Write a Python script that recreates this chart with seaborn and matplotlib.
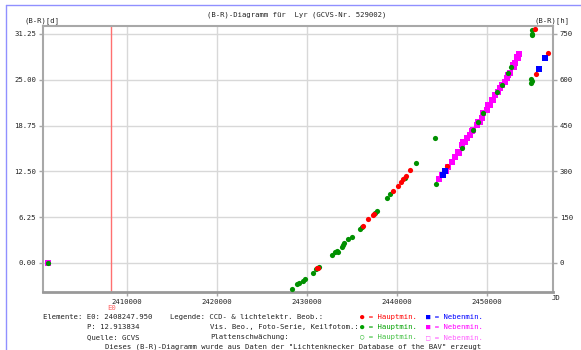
import matplotlib
matplotlib.use("Agg")
import matplotlib.pyplot as plt
import seaborn as sns

# ---------------------------------------------------------------
# Daten (abgelesen aus dem B-R-Diagramm)
# ---------------------------------------------------------------
E0 = 2408247.950
xticks = [2410000, 2420000, 2430000, 2440000, 2450000]
yticks_d = [0.00, 6.25, 12.50, 18.75, 25.00, 31.25]
yticks_h = [0, 150, 300, 450, 600, 750]

# CCD / lichtelektr. Hauptminima (rot)
red_jd = [2431070, 2431250, 2436259, 2436741, 2437296, 2437450, 2439593,
          2440074, 2440444, 2440704, 2441000, 2441444, 2445519, 2455333,
          2455444, 2456741]
red_oc = [-0.72, -0.62, 5.09, 5.96, 6.55, 6.75, 9.87,
          10.51, 11.09, 11.42, 11.87, 12.69, 13.23, 31.93,
          25.74, 28.70]

# CCD / lichtelektr. Nebenminima (blau)
blue_jd = [2445149, 2445334, 2455815, 2456444]
blue_oc = [12.01, 12.50, 26.47, 27.93]

# visuelle Hauptminima (gruen)
green_jd = [2401260, 2428300, 2428856, 2429148, 2429592, 2429778, 2430700,
            2431000, 2431367, 2432744, 2433111, 2433370, 2433480, 2433852,
            2434000, 2434111, 2434592, 2434963, 2435889, 2436074, 2437550,
            2437741, 2438852, 2439222, 2440890, 2442111, 2444223, 2444333,
            2447186, 2448482, 2449038, 2449593, 2451075, 2451631, 2452371,
            2452700, 2454963, 2454963, 2455000, 2454889, 2454889, 2454950]
green_oc = [0.00, -3.59, -2.87, -2.69, -2.41, -2.18, -1.41,
            -0.85, -0.59, 1.09, 1.54, 1.68, 1.54, 2.22,
            2.45, 2.69, 3.23, 3.59, 4.64, 4.87, 6.85,
            7.10, 8.83, 9.37, 11.60, 13.60, 17.12, 10.78,
            15.65, 18.15, 19.28, 20.42, 23.38, 24.29, 25.88,
            26.70, 31.80, 31.10, 31.30, 25.06, 24.61, 24.85]

# visuelle Nebenminima (magenta)
mag_jd = [2401260, 2444704, 2445000, 2445400, 2445704, 2446075, 2446445,
          2446815, 2446900, 2447186, 2447371, 2447600, 2447741, 2448111,
          2448300, 2448482, 2448853, 2449038, 2449200, 2449408, 2449593,
          2449964, 2450100, 2450334, 2450519, 2450700, 2450889, 2451260,
          2451450, 2451631, 2452001, 2452186, 2452350, 2452557, 2452927,
          2453000, 2453112, 2453371, 2453450, 2453557]
mag_oc = [0.00, 11.42, 12.00, 12.60, 13.14, 13.83, 14.51,
          15.19, 15.00, 16.10, 16.55, 16.50, 17.01, 17.46,
          18.00, 18.15, 18.83, 19.28, 19.30, 19.74, 20.42,
          20.88, 21.50, 21.56, 22.24, 22.30, 22.92, 23.38,
          23.90, 24.29, 24.74, 25.20, 25.60, 25.88, 27.02,
          26.80, 27.24, 28.06, 28.00, 28.47]

# ---------------------------------------------------------------
# Figur
# ---------------------------------------------------------------
sns.set_theme(style="white")
plt.rcParams['font.family'] = ['DejaVu Sans Mono', 'DejaVu Sans']

W, H = 581, 350
fig = plt.figure(figsize=(W / 100, H / 100), dpi=100)
fs = 5.2
txt_col = '#222222'
grau = '#a8a8a8'

def px(x, y):
    return x / W, 1 - y / H

ax = fig.add_axes([43 / W, 1 - 292 / H, 510 / W, 266 / H])

ax.axvline(E0, color='#ff7070', lw=1, zorder=1)

sns.scatterplot(x=green_jd, y=green_oc, ax=ax, color='#009000', marker='o',
                s=14, linewidth=0, legend=False, zorder=3)
sns.scatterplot(x=mag_jd, y=mag_oc, ax=ax, color='#ff00ff', marker='s',
                s=16, linewidth=0, legend=False, zorder=2)
sns.scatterplot(x=red_jd, y=red_oc, ax=ax, color='#ff0000', marker='o',
                s=14, linewidth=0, legend=False, zorder=4)
sns.scatterplot(x=blue_jd, y=blue_oc, ax=ax, color='#0000ff', marker='s',
                s=16, linewidth=0, legend=False, zorder=4)

ax.set_xlim(2400667, 2457333)
ax.set_ylim(-3.96, 32.34)
ax.set_xticks(xticks)
ax.set_xticklabels([str(t) for t in xticks])
ax.set_yticks(yticks_d)
ax.set_yticklabels([f"{t:.2f}" for t in yticks_d])
ax.grid(True, color='#d8d8d8', lw=1)
ax.set_axisbelow(True)
ax.tick_params(labelsize=fs, labelcolor=txt_col, color=grau, length=3,
               width=1, pad=2, left=True, bottom=True)
for side, sp in ax.spines.items():
    sp.set_color(grau)
    sp.set_linewidth(1.5)
ax.spines['bottom'].set_color('#999999')
ax.spines['bottom'].set_linewidth(2)
ax.set_xlabel('')
ax.set_ylabel('')

ax2 = ax.twinx()
ax2.set_ylim(-3.96 * 24, 32.34 * 24)
ax2.set_yticks(yticks_h)
ax2.set_yticklabels([str(t) for t in yticks_h])
ax2.tick_params(labelsize=fs, labelcolor=txt_col, color=grau, length=3,
                width=1, pad=2, right=True)
for sp in ax2.spines.values():
    sp.set_visible(False)

# Beschriftungen
fig.text(*px(297, 15), '(B-R)-Diagramm für  Lyr (GCVS-Nr. 529002)',
         ha='center', va='center', fontsize=fs, color=txt_col)
fig.text(*px(42, 21), '(B-R)[d]', ha='center', va='center', fontsize=fs, color=txt_col)
fig.text(*px(552, 21), '(B-R)[h]', ha='center', va='center', fontsize=fs, color=txt_col)
fig.text(*px(552, 298), 'JD', ha='left', va='center', fontsize=fs, color=txt_col)
fig.text(*px(112, 308), 'E0', ha='center', va='center', fontsize=fs, color='#ff6060')

zeilen = [317, 327, 337, 347]
fig.text(*px(43, zeilen[0]), 'Elemente: E0: 2408247.950', va='center', fontsize=fs, color=txt_col)
fig.text(*px(87, zeilen[1]), 'P: 12.913834', va='center', fontsize=fs, color=txt_col)
fig.text(*px(87, zeilen[2]), 'Quelle: GCVS', va='center', fontsize=fs, color=txt_col)
fig.text(*px(170, zeilen[0]), 'Legende: CCD- & lichtelektr. Beob.:', va='center', fontsize=fs, color=txt_col)
fig.text(*px(210, zeilen[1]), 'Vis. Beo., Foto-Serie, Keilfotom.:', va='center', fontsize=fs, color=txt_col)
fig.text(*px(210, zeilen[2]), 'Plattenschwächung:', va='center', fontsize=fs, color=txt_col)
fig.text(*px(360, zeilen[0]), '● = Hauptmin.', va='center', fontsize=fs, color='#ff0000')
fig.text(*px(360, zeilen[1]), '● = Hauptmin.', va='center', fontsize=fs, color='#00a000')
fig.text(*px(360, zeilen[2]), '○ = Hauptmin.', va='center', fontsize=fs, color='#40c040')
fig.text(*px(426, zeilen[0]), '■ = Nebenmin.', va='center', fontsize=fs, color='#0000ff')
fig.text(*px(426, zeilen[1]), '■ = Nebenmin.', va='center', fontsize=fs, color='#ff00ff')
fig.text(*px(426, zeilen[2]), '□ = Nebenmin.', va='center', fontsize=fs, color='#ff60ff')
fig.text(*px(105, zeilen[3]),
         'Dieses (B-R)-Diagramm wurde aus Daten der "Lichtenknecker Database of the BAV" erzeugt',
         va='center', fontsize=fs, color=txt_col)

# blauer Rahmen
fig.add_artist(plt.Line2D([6 / W, 1], [1 - 5 / H, 1 - 5 / H], color='#9090ff', lw=1))
fig.add_artist(plt.Line2D([6 / W, 6 / W], [0, 1 - 5 / H], color='#9090ff', lw=1))

fig.savefig('out.png', dpi=100, facecolor='white')
